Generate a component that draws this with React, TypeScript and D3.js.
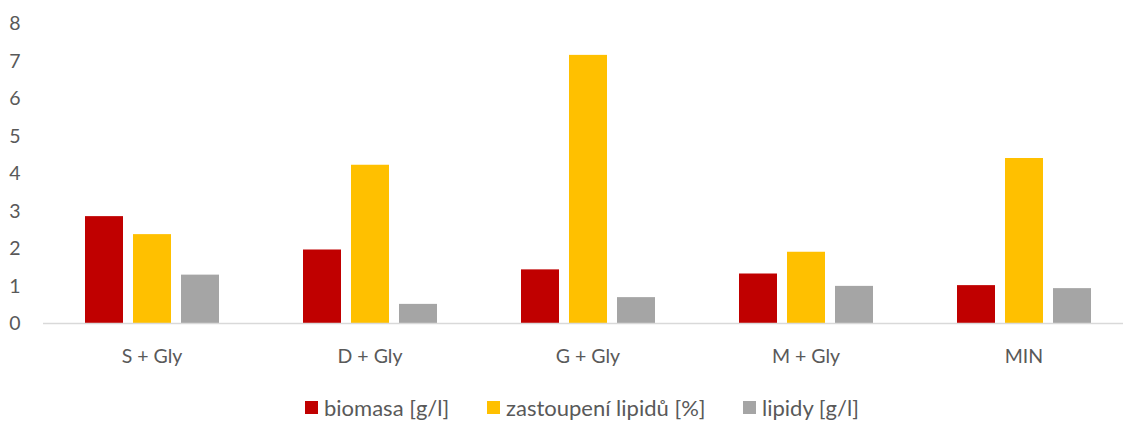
import React from "react";
import * as d3 from "d3";

const categories = ["S + Gly", "D + Gly", "G + Gly", "M + Gly", "MIN"];
const seriesNames = ["biomasa [g/l]", "zastoupení lipidů [%]", "lipidy [g/l]"];
const biomasa = [2.85, 1.96, 1.43, 1.32, 1.01];
const zastoupeni = [2.37, 4.22, 7.15, 1.9, 4.4];
const lipidy = [1.29, 0.51, 0.69, 0.99, 0.93];
const yTicks = [0, 1, 2, 3, 4, 5, 6, 7, 8];
const colors = ["#C00000", "#FFC000", "#A5A5A5"];

const W = 1123;
const H = 421;
const FONT = "Lato, 'Noto Sans', sans-serif";
const TEXT = "#595959";

export default function App() {
  const series = [biomasa, zastoupeni, lipidy];
  const left = 43;
  const right = 1133;
  const x = d3.scaleBand<string>().domain(categories).range([left, right]).paddingInner(0).paddingOuter(0);
  const y = d3.scaleLinear().domain([0, 8]).range([323, 23]);
  const barW = 38;
  const gap = 10;
  const groupW = barW * 3 + gap * 2;

  const legendItems = [
    { name: seriesNames[0], color: colors[0], x: 305 },
    { name: seriesNames[1], color: colors[1], x: 487 },
    { name: seriesNames[2], color: colors[2], x: 743 },
  ];

  return (
    <svg width={W} height={H} style={{ position: "absolute", left: 0, top: 0, background: "#fff" }}>
      <rect width={W} height={H} fill="#fff" />
      {yTicks.map((t) => (
        <text key={t} x={20.5} y={y(t)} dy="0.36em" textAnchor="end" fontFamily={FONT} fontSize={19.5} fill={TEXT}>
          {t}
        </text>
      ))}
      {categories.map((c, i) => {
        const cx = (x(c) as number) + x.bandwidth() / 2;
        const start = cx - groupW / 2;
        return (
          <g key={c}>
            {series.map((s, j) => (
              <rect
                key={j}
                x={start + j * (barW + gap)}
                y={y(s[i])}
                width={barW}
                height={y(0) - y(s[i])}
                fill={colors[j]}
              />
            ))}
            <text x={cx} y={356} dy="0.36em" textAnchor="middle" fontFamily={FONT} fontSize={19.5} fill={TEXT}>
              {c}
            </text>
          </g>
        );
      })}
      <line x1={left} x2={right} y1={y(0) + 0.5} y2={y(0) + 0.5} stroke="#D9D9D9" strokeWidth={1.5} />
      {legendItems.map((l) => (
        <g key={l.name}>
          <rect x={l.x} y={401} width={13} height={13} fill={l.color} />
          <text x={l.x + 19} y={408} dy="0.36em" fontFamily={FONT} fontSize={22} fill={TEXT}>
            {l.name}
          </text>
        </g>
      ))}
    </svg>
  );
}
